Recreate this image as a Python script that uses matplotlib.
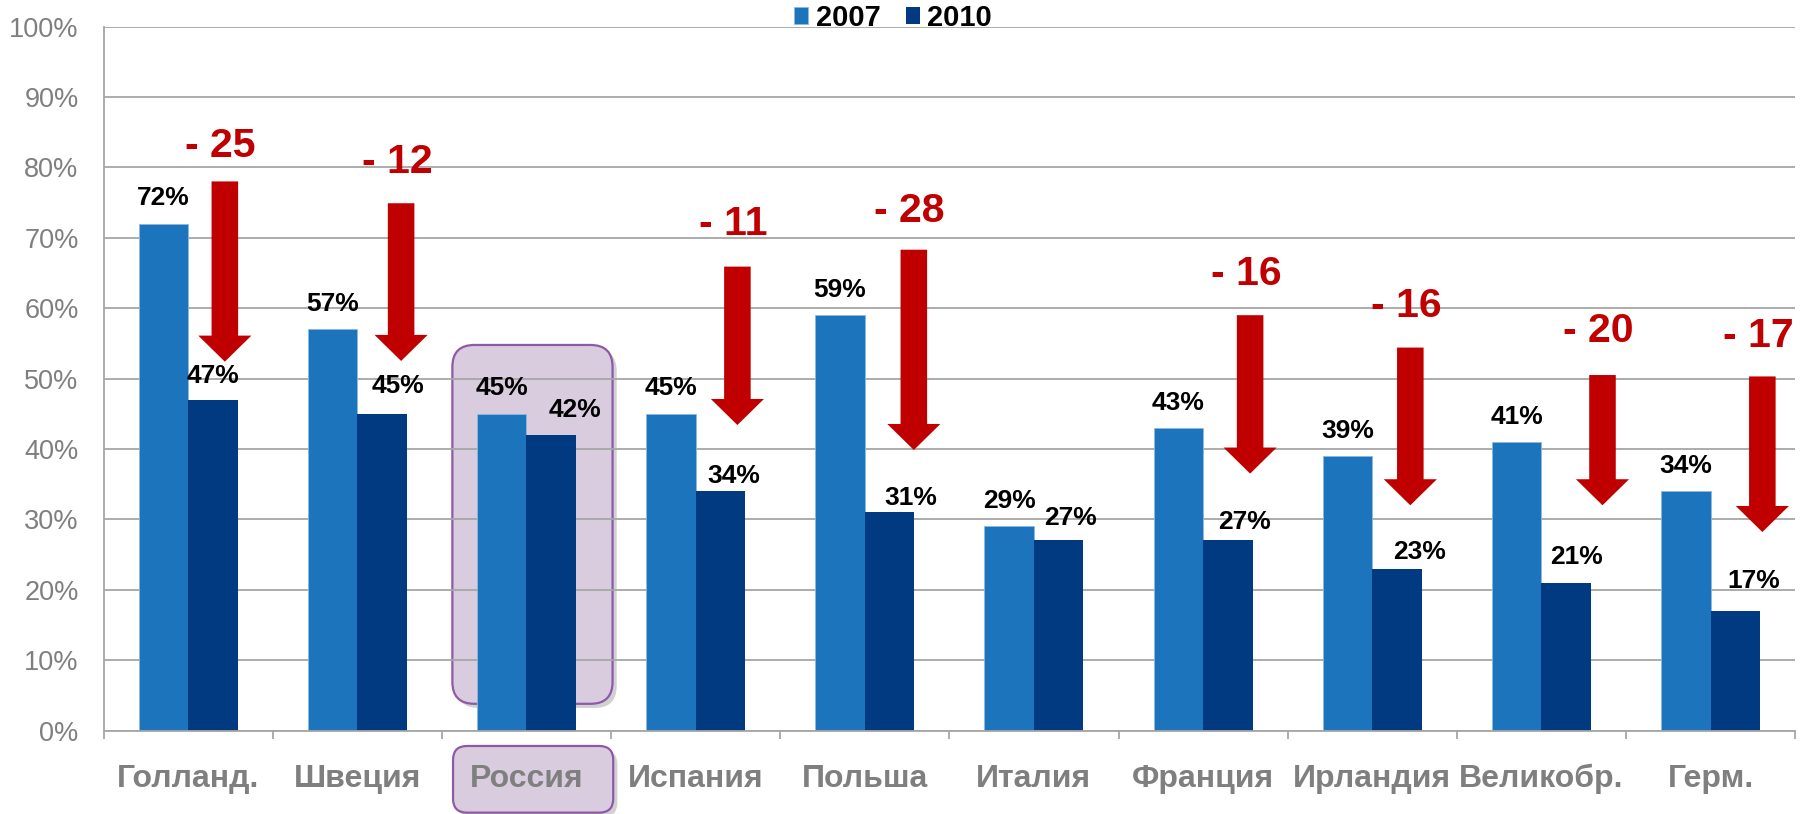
import numpy as np
import matplotlib
matplotlib.use("Agg")
import matplotlib.pyplot as plt
import matplotlib.patheffects as pe
from matplotlib.patches import FancyBboxPatch, FancyArrow

plt.rcParams['font.family'] = ['Liberation Sans', 'DejaVu Sans']

# ---- data ----
countries = ['Голланд.', 'Швеция', 'Россия', 'Испания', 'Польша',
             'Италия', 'Франция', 'Ирландия', 'Великобр.', 'Герм.']
share_2007 = [72, 57, 45, 45, 59, 29, 43, 39, 41, 34]
share_2010 = [47, 45, 42, 34, 31, 27, 27, 23, 21, 17]
years = ['2007', '2010']
highlight = 2   # Россия

# 2010 labels were nudged by hand in the original slide
lbl10_dx = [0.0, 0.095, 0.14, 0.08, 0.124, 0.067, 0.10, 0.133, 0.064, 0.11]
lbl10_dy = [2.3, 3.0, 2.6, 1.1, 1.1, 2.2, 1.6, 1.4, 2.7, 3.2]

# red "drop" arrows
arrow_cat = [0, 1, 3, 4, 6, 7, 8, 9]
arrow_dx = [0.217, 0.259, 0.247, 0.29, 0.278, 0.225, 0.361, 0.306]
arrow_top = [78, 74.9, 65.9, 68.3, 59.0, 54.4, 50.5, 50.3]
arrow_tip = [52.4, 52.5, 43.4, 39.85, 36.5, 32.0, 32.0, 28.2]
drop_lbl_y = [81.5, 79.2, 70.4, 72.3, 63.3, 58.7, 55.2, 54.5]

# ---- style ----
c07 = '#1C75BC'
c10 = '#013A80'
red = '#C00000'
grey_line = '#A6A6A6'
grey_txt = '#7F7F7F'

fig = plt.figure(figsize=(18.04, 8.14), dpi=100)
ax = fig.add_axes([0.0574, 0.1025, 0.9377, 0.8649])

x = np.arange(len(countries))
w = 0.2925

b07 = ax.bar(x - w / 2, share_2007, w, color=c07, edgecolor='#8DB8E0',
             linewidth=0.6, zorder=2)
b10 = ax.bar(x + w / 2, share_2010, w, color=c10, linewidth=0, zorder=2)

ax.set_xlim(-0.5, len(countries) - 0.5)
ax.set_ylim(0, 100)

for i in range(len(countries)):
    ax.text(x[i] - w / 2, share_2007[i] + 2.6, f'{share_2007[i]}%',
            ha='center', va='baseline', fontsize=19, fontweight='bold',
            zorder=4)
    ax.text(x[i] + w / 2 + lbl10_dx[i], share_2010[i] + lbl10_dy[i],
            f'{share_2010[i]}%', ha='center', va='baseline', fontsize=19,
            fontweight='bold', zorder=4)

for k, c in enumerate(arrow_cat):
    xa = c + arrow_dx[k]
    ax.add_patch(FancyArrow(xa, arrow_top[k], 0, arrow_tip[k] - arrow_top[k],
                            width=0.157, head_width=0.314, head_length=3.7,
                            length_includes_head=True, color=red, lw=0,
                            zorder=3))
    drop = share_2007[c] - share_2010[c]
    ax.text(xa - 0.025, drop_lbl_y[k], f'- {drop}', ha='center',
            va='baseline', fontsize=29.5, fontweight='bold', color=red,
            zorder=4)

# highlight boxes for Russia (rounded corners corrected for axis aspect)
fig_w, fig_h = fig.get_size_inches() * fig.dpi
pos = ax.get_position()
px_x = pos.width * fig_w / 10.0
px_y = pos.height * fig_h / 100.0
asp = px_x / px_y
shadow = [pe.SimplePatchShadow(offset=(3, -3), shadow_rgbFace='#9A9A9A',
                               alpha=0.45), pe.Normal()]
box = FancyBboxPatch((highlight - 0.438, 3.8), 0.947, 50.97,
                     boxstyle=f'round,pad=0,rounding_size={22 / px_x}',
                     mutation_aspect=asp, fc='#D9CCDF', ec='#8E5AA7',
                     lw=1.6, zorder=0.2, path_effects=shadow)
ax.add_patch(box)
lbox = FancyBboxPatch((highlight - 0.434, -11.66), 0.947, 9.47,
                      boxstyle=f'round,pad=0,rounding_size={14 / px_x}',
                      mutation_aspect=asp, fc='#D9CCDF', ec='#8E5AA7',
                      lw=1.6, zorder=0.2, clip_on=False, path_effects=shadow)
ax.add_patch(lbox)

# axes
ax.set_axisbelow(True)
ax.yaxis.grid(True, color=grey_line, lw=1.3)
ax.spines[['top', 'right']].set_visible(False)
for s in ['left', 'bottom']:
    ax.spines[s].set_color(grey_line)
    ax.spines[s].set_linewidth(1.3)

ax.set_yticks(range(0, 101, 10))
ax.set_yticklabels([f'{t}%' for t in range(0, 101, 10)])
ax.tick_params(axis='y', length=0, pad=18, labelsize=19.5, labelcolor=grey_txt)

ax.set_xticks(x)
ax.set_xticklabels(countries, fontweight='bold')
ax.set_xticks(np.arange(-0.5, len(countries), 1), minor=True)
ax.tick_params(axis='x', which='major', length=0, pad=24, labelsize=23,
               labelcolor=grey_txt)
ax.tick_params(axis='x', which='minor', length=6, width=1.3, color=grey_line,
               direction='out')

fig.legend(handles=[b07, b10], labels=years, loc='center',
           bbox_to_anchor=(0.495, 0.978), ncol=2, frameon=False,
           prop={'weight': 'bold', 'size': 21}, handlelength=0.5,
           handleheight=0.5, handletextpad=0.25, columnspacing=0.86)

fig.savefig('out.png', dpi=100)
